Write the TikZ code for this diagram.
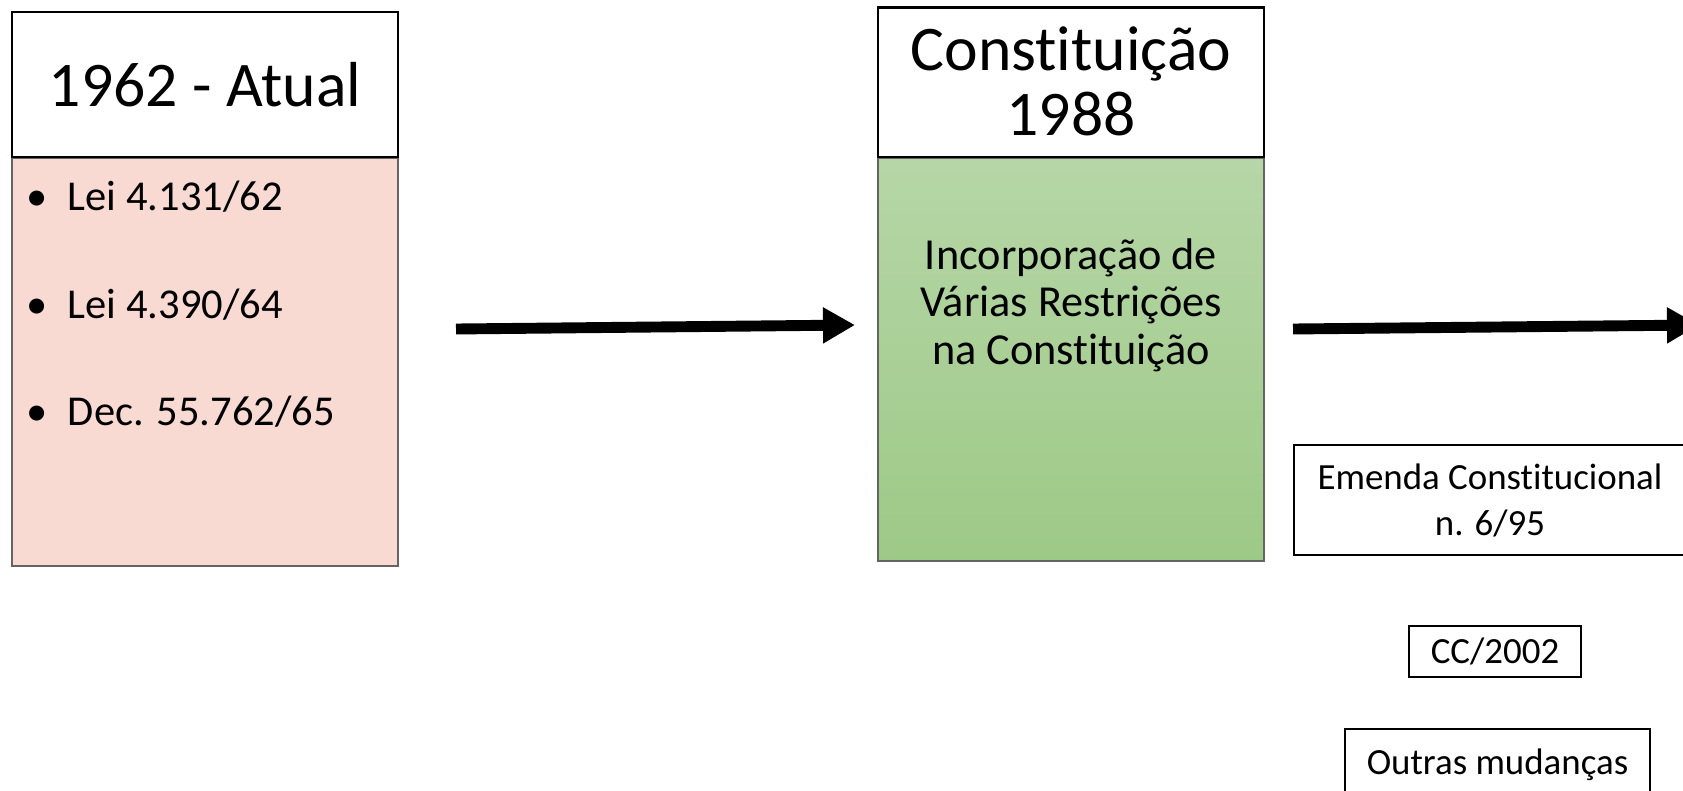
\documentclass[tikz,border=0pt]{standalone}
\usepackage{fontspec}
\setmainfont{Carlito}[Ligatures = NoCommon]
\usetikzlibrary{arrows.meta}

\definecolor{pinkbody}{RGB}{248,218,211}
\definecolor{greentop}{RGB}{182,214,167}
\definecolor{greenbot}{RGB}{157,201,134}
\definecolor{bodyline}{RGB}{100,100,100}

\begin{document}
\begin{tikzpicture}[
    header/.style = {draw,
      fill = white,
      line width = 0.7pt,
      minimum width = {3.86cm},
      inner sep = 0pt,
      align = center,
      font = \fontsize{18.1}{18.5}\selectfont},
    period/.style = {draw = bodyline,
      line width = 0.7pt,
      minimum width = {3.86cm},
      anchor = north,
      inner sep = 0pt},
    item/.style = {anchor = base west,
      inner sep = 0pt,
      font = \fontsize{12.1}{14}\selectfont},
    change/.style = {draw,
      line width = 0.6pt,
      align = center,
      inner sep = 0pt,
      font = \fontsize{10.5}{13.1}\selectfont},
    flow/.style = {line width = 3.1pt,
      -{Triangle[length = 0.32cm, width = 0.34cm]}},
    ]

    \useasboundingbox (0, 0) rectangle (16.83, 7.90);
    \clip (0, 0) rectangle (16.83, 7.90);

    \node at (2.05, 6.33)
    [period, fill = pinkbody, minimum height = {4.08cm}, name = body62] {};
    \node at (2.05, 7.055)
    [header, minimum height = {1.45cm}, name = head62] {1962 - Atual};

    \node at (0.26, 5.80) [item, name = lei62] {\textbullet\hspace{0.2cm}Lei 4.131/62};
    \node at (0.26, 4.72) [item, name = lei64] {\textbullet\hspace{0.2cm}Lei 4.390/64};
    \node at (0.26, 3.65) [item, name = dec65] {\textbullet\hspace{0.2cm}Dec. 55.762/65};

    \node at (10.71, 6.33)
    [period, top color = greentop, bottom color = greenbot,
      minimum height = {4.03cm}, name = body88] {};
    \node at (10.71, 7.0775)
    [header, minimum height = {1.495cm}, name = head88]
    {\raisebox{0.03cm}{Constituição}\\\raisebox{0.03cm}{1988}};

    \node at (10.71, 4.85)
    [align = center, inner sep = 0pt, font = \fontsize{12.6}{13.5}\selectfont,
      name = restr] {Incorporação de\\Várias Restrições\\na Constituição};

    \node at (14.90, 2.90)
    [change, minimum width = {3.92cm}, minimum height = {1.10cm}, name = ec695]
    {Emenda Constitucional\\n. 6/95};
    \node at (14.95, 1.385)
    [change, minimum width = {1.72cm}, minimum height = {0.51cm}, name = cc2002]
    {CC/2002};
    \node at (14.975, 0.25)
    [change, minimum width = {3.05cm}, minimum height = {0.72cm}, name = outras]
    {Outras mudanças};

    \coordinate (from62) at (4.56, 4.61);
    \coordinate (to88) at (8.55, 4.65);
    \coordinate (from88) at (12.93, 4.61);
    \coordinate (toNow) at (16.99, 4.65);

    \draw [flow] (from62) to (to88);
    \draw [flow] (from88) to (toNow);
  \end{tikzpicture}
\end{document}
